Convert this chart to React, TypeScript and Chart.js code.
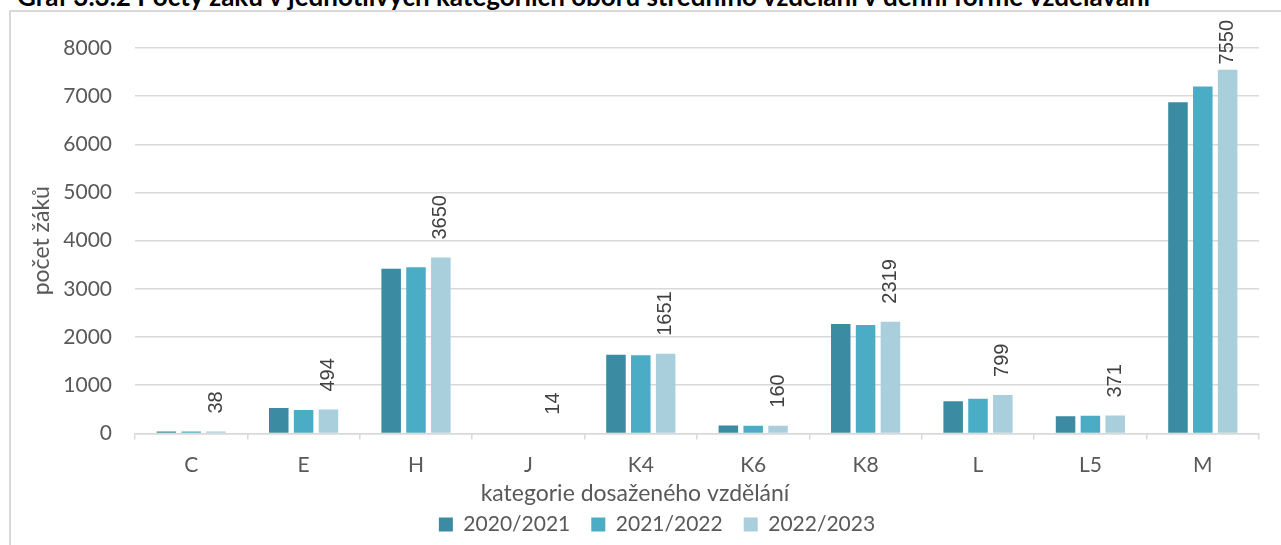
import React, { useEffect, useRef } from "react";
import { Chart, registerables } from "chart.js";

Chart.register(...registerables);

const TITLE = "Graf 3.3.2 Počty žáků v jednotlivých kategoriích oborů středního vzdělání v denní formě vzdělávání";
const X_TITLE = "kategorie dosaženého vzdělání";
const Y_TITLE = "počet žáků";

const categories = ["C", "E", "H", "J", "K4", "K6", "K8", "L", "L5", "M"];
const series2020 = [40, 525, 3420, 15, 1630, 165, 2270, 665, 355, 6875];
const series2021 = [40, 485, 3450, 15, 1620, 160, 2250, 720, 367, 7200];
const series2022 = [38, 494, 3650, 14, 1651, 160, 2319, 799, 371, 7550];
const seriesLabels = ["2020/2021", "2021/2022", "2022/2023"];
const seriesColors = ["#3B8BA3", "#4BACC6", "#A9CEDC"];

const FONT = "Lato";
const TEXT_COLOR = "#595959";
const GRID_COLOR = "#D9D9D9";

const dataLabelPlugin = {
  id: "rotatedLabels",
  afterDatasetsDraw(chart: any) {
    const ctx = chart.ctx;
    const meta = chart.getDatasetMeta(2);
    const ds = chart.data.datasets[2];
    ctx.save();
    ctx.font = `20px "Liberation Sans"`;
    ctx.fillStyle = "#404040";
    ctx.textAlign = "left";
    ctx.textBaseline = "middle";
    meta.data.forEach((bar: any, i: number) => {
      const txt = String(ds.data[i]);
      const w = ctx.measureText(txt).width;
      let start = bar.y - 18;
      if (start - w < 8) start = 8 + w;
      ctx.save();
      ctx.translate(bar.x, start);
      ctx.rotate(-Math.PI / 2);
      ctx.fillText(txt, 0, 0);
      ctx.restore();
    });
    ctx.restore();
  },
};

const legendShiftPlugin = {
  id: "legendShift",
  afterLayout(chart: any) {
    const lg = chart.legend;
    if (lg) {
      lg.left += 22;
      lg.right += 22;
      lg.top -= 14;
      lg.bottom -= 14;
    }
  },
};

export default function App() {
  const ref = useRef<HTMLCanvasElement | null>(null);

  useEffect(() => {
    if (!ref.current) return;
    const datasets = [series2020, series2021, series2022].map((d, i) => ({
      label: seriesLabels[i],
      data: d,
      backgroundColor: seriesColors[i],
      categoryPercentage: 0.663,
      barPercentage: 0.786,
    }));
    const chart = new Chart(ref.current, {
      type: "bar",
      data: { labels: categories, datasets },
      plugins: [dataLabelPlugin, legendShiftPlugin],
      options: {
        responsive: false,
        animation: false,
        layout: { padding: { top: 36, right: 12, left: 0, bottom: 0 } },
        plugins: {
          tooltip: { enabled: false },
          title: {
            display: true,
            text: X_TITLE,
            position: "bottom",
            weight: 500,
            color: TEXT_COLOR,
            font: { family: FONT, size: 23, weight: "normal" },
            padding: { top: 0, bottom: 0 },
          } as any,
          legend: {
            position: "bottom",
            labels: {
              boxWidth: 14,
              boxHeight: 14,
              padding: 21,
              color: TEXT_COLOR,
              font: { family: FONT, size: 21 },
            },
          },
        },
        scales: {
          x: {
            afterFit(scale: any) {
              scale.height = 46;
            },
            grid: {
              drawOnChartArea: false,
              drawTicks: true,
              tickLength: 6,
              color: GRID_COLOR,
              lineWidth: 1.5,
            },
            border: { display: true, color: GRID_COLOR, width: 1.5 },
            ticks: {
              color: TEXT_COLOR,
              font: { family: FONT, size: 21 },
              padding: 13,
            },
          },
          y: {
            min: 0,
            max: 8000,
            afterFit(scale: any) {
              scale.width = 124;
            },
            grid: { color: GRID_COLOR, lineWidth: 1.5, drawTicks: false },
            border: { display: false },
            ticks: {
              stepSize: 1000,
              color: TEXT_COLOR,
              font: { family: FONT, size: 21 },
              padding: 23,
              callback: (v: any) => String(v),
            },
            title: {
              display: true,
              text: Y_TITLE,
              color: TEXT_COLOR,
              font: { family: FONT, size: 23 },
              padding: { top: 17, bottom: 0 },
            },
          },
        },
      },
    });
    return () => chart.destroy();
  }, []);

  return (
    <div
      style={{
        position: "fixed",
        left: 0,
        top: 0,
        width: 1281,
        height: 545,
        overflow: "hidden",
        background: "#fff",
      }}
    >
      <div
        style={{
          position: "absolute",
          left: 17,
          top: -19,
          font: `bold 26px ${FONT}`,
          lineHeight: "30px",
          whiteSpace: "nowrap",
          color: "#000",
        }}
      >
        {TITLE}
      </div>
      <div
        style={{
          position: "absolute",
          left: 9,
          top: 10,
          width: 1300,
          height: 560,
          border: `2px solid ${GRID_COLOR}`,
          boxSizing: "border-box",
        }}
      />
      <div style={{ position: "absolute", left: 11, top: 12, width: 1260, height: 547 }}>
        <canvas ref={ref} width={1260} height={547} style={{ display: "block" }} />
      </div>
    </div>
  );
}
